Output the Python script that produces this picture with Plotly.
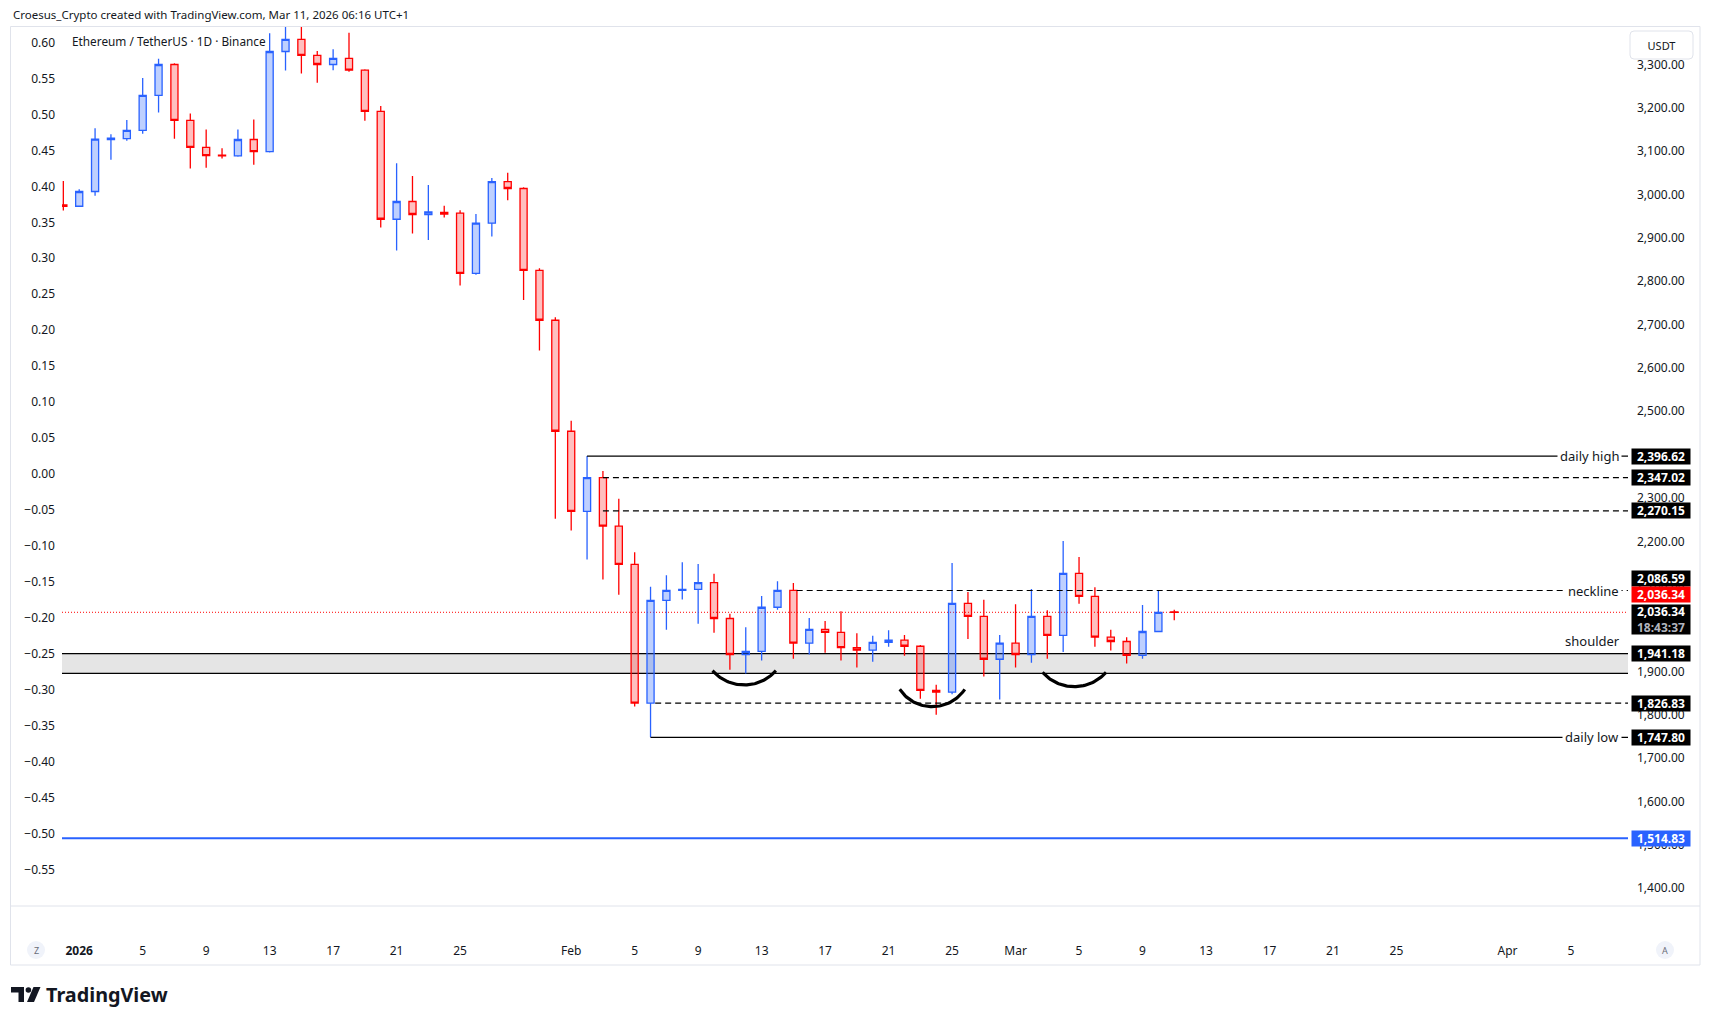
import numpy as np
import pandas as pd
import plotly.graph_objects as go

# ---------------- data ----------------
dates = pd.date_range("2025-12-31", "2026-03-11", freq="D")
opens = [2976, 2973, 3007, 3127, 3129, 3148, 3229, 3300, 3171, 3109, 3091, 3089, 3127, 3099, 3330, 3358,
         3321, 3300, 3314, 3287, 3192, 2943, 2984, 2954, 2959, 2957, 2818, 2934, 3030, 3014, 2825, 2710,
         2454, 2269, 2347, 2235, 2147, 1826.83, 2064, 2087, 2089, 2105, 2022, 1939, 1946, 2048, 2087,
         1965, 1997, 1990, 1955, 1949, 1967, 1972, 1958, 1856, 1852, 2057, 2027, 1928, 1965, 1939, 2027,
         1983, 2126, 2073, 1979, 1969, 1937, 1992, 2037]
highs = [3031, 3012, 3153, 3139, 3172, 3269, 3313, 3303, 3187, 3150, 3107, 3150, 3173, 3372, 3405, 3398,
         3331, 3335, 3373, 3289, 3204, 3072, 3043, 3022, 2974, 2964, 2955, 3038, 3050, 3017, 2830, 2717,
         2478, 2396.62, 2362, 2298, 2175, 2095, 2122, 2152, 2148, 2125, 2033, 2002, 2074, 2108, 2104,
         2023, 2016, 2039, 1988, 1982, 1995, 1984, 1961, 1869, 2150, 2083, 2065, 1984, 2055, 2090, 2041,
         2201, 2164, 2094, 1996, 1979, 2053, 2087, 2042]
lows = [2963, 2971, 2997, 3080, 3124, 3140, 3189, 3129, 3060, 3062, 3083, 3087, 3069, 3097, 3286, 3279,
        3258, 3287, 3283, 3170, 2924, 2871, 2910, 2895, 2947, 2790, 2815, 2903, 2987, 2757, 2640, 2252,
        2225, 2158, 2112, 2077, 1819, 1747.80, 1996, 2066, 2010, 1989, 1904, 1895, 1925, 2042, 1929,
        1939, 1943, 1925, 1909, 1922, 1957, 1936, 1837, 1800, 1847, 1975, 1888, 1835, 1909, 1920, 1929,
        1945, 2056, 1957, 1948, 1918, 1929, 1992, 2018]
closes = [2973, 3007, 3128, 3130, 3148, 3229, 3300, 3171, 3109, 3090, 3089, 3127, 3099, 3330, 3358, 3321,
          3300, 3314, 3287, 3192, 2943, 2984, 2954, 2960, 2955, 2818, 2934, 3030, 3014, 2825, 2710, 2454,
          2269, 2347.02, 2235, 2147, 1826.83, 2064, 2087, 2089, 2105, 2022, 1939, 1946, 2048, 2087, 1965,
          1997, 1990, 1955, 1949, 1967, 1972, 1958, 1856, 1852, 2057, 2027, 1928, 1965, 1939, 2027, 1983,
          2126, 2073, 1979, 1969, 1937, 1992, 2036.34, 2036.34]

left_ticks = [0.60, 0.55, 0.50, 0.45, 0.40, 0.35, 0.30, 0.25, 0.20, 0.15, 0.10, 0.05, 0.00,
              -0.05, -0.10, -0.15, -0.20, -0.25, -0.30, -0.35, -0.40, -0.45, -0.50, -0.55]
left_tick_labels = [f"{v:.2f}".replace("-", "\u2212") for v in left_ticks]
right_ticks = [1400, 1500, 1600, 1700, 1800, 1900, 2000, 2100, 2200, 2300, 2400, 2500, 2600, 2700,
               2800, 2900, 3000, 3100, 3200, 3300]
x_tick_dates = ["2026-01-01", "2026-01-05", "2026-01-09", "2026-01-13", "2026-01-17", "2026-01-21",
                "2026-01-25", "2026-02-01", "2026-02-05", "2026-02-09", "2026-02-13", "2026-02-17",
                "2026-02-21", "2026-02-25", "2026-03-01", "2026-03-05", "2026-03-09", "2026-03-13",
                "2026-03-17", "2026-03-21", "2026-03-25", "2026-04-01", "2026-04-05"]
x_tick_labels = ["<b>2026</b>", "5", "9", "13", "17", "21", "25", "Feb", "5", "9", "13", "17", "21", "25",
                 "Mar", "5", "9", "13", "17", "21", "25", "Apr", "5"]

# drawn levels
level_prices = [2396.62, 2347.02, 2270.15, 2086.59, 1826.83, 1747.80]
level_starts = ["2026-02-02", "2026-02-03", "2026-02-03", "2026-02-15 05:00", "2026-02-06 07:00", "2026-02-06"]
level_dashed = [False, True, True, True, True, False]
level_texts = ["daily high", "", "", "neckline", "", "daily low"]
shoulder_top = 1941.18
shoulder_bottom = 1895.5
last_price = 2036.34
blue_level = 1514.83
countdown = "18:43:37"
# rounded-bottom drawings: (start day, end day, rim price, bottom price), day 0 = 2026-01-01
arcs = [(39.9, 43.9, 1901.6, 1868.6), (51.7, 55.8, 1858.6, 1818.6), (60.7, 64.7, 1897.8, 1864.8)]

# ---------------- layout geometry ----------------
W, H = 1711, 1025
PL, PR, PT, PB = 62, 1628, 27, 906
BASE = pd.Timestamp("2026-01-01")
X_DAYS = (-1.084, 97.59)
Y_RANGE = (1358.8, 3386.5)
Y2_RANGE = (-0.6006, 0.6216)
FONT = "Noto Sans"
TXT = "#131722"


def px_x(px):
    return (px - PL) / (PR - PL)


def px_y(py):
    return (PB - py) / (PB - PT)


def day(d):
    return BASE + pd.to_timedelta(d, unit="D")


x_range = [day(X_DAYS[0]), day(X_DAYS[1])]

fig = go.Figure()
fig.add_trace(go.Candlestick(
    x=dates, open=opens, high=highs, low=lows, close=closes,
    increasing=dict(line=dict(color="#2962ff", width=1.3), fillcolor="rgba(41,98,255,0.3)"),
    decreasing=dict(line=dict(color="#ff0000", width=1.3), fillcolor="rgba(255,0,0,0.25)"),
    whiskerwidth=0, showlegend=False, hoverinfo="skip"))

# arcs
ppd = (PR - PL) / (X_DAYS[1] - X_DAYS[0])
ppu = (PB - PT) / (Y_RANGE[1] - Y_RANGE[0])
for s, e, rim, bot in arcs:
    half = (e - s) / 2 * ppd
    sag = (rim - bot) * ppu
    R = (half ** 2 + sag ** 2) / (2 * sag)
    u = np.linspace(-half, half, 60)
    v = R - np.sqrt(R ** 2 - u ** 2)
    xs = [day((s + e) / 2 + ui / ppd) for ui in u]
    ys = bot + v / ppu
    fig.add_trace(go.Scatter(x=xs, y=ys, mode="lines", line=dict(color="black", width=3.2),
                             showlegend=False, hoverinfo="skip"))

# invisible trace for left scale
fig.add_trace(go.Scatter(x=[dates[0]], y=[0], yaxis="y2", mode="markers",
                         marker=dict(opacity=0), showlegend=False, hoverinfo="skip"))

shapes = []
# shoulder band
shapes.append(dict(type="rect", xref="paper", yref="y", x0=0, x1=1, y0=shoulder_bottom, y1=shoulder_top,
                   fillcolor="rgba(0,0,0,0.10)", line=dict(width=0), layer="below"))
for yv in (shoulder_top, shoulder_bottom):
    shapes.append(dict(type="line", xref="paper", yref="y", x0=0, x1=1, y0=yv, y1=yv,
                       line=dict(color="black", width=1.3), layer="below"))
# last price dotted line
shapes.append(dict(type="line", xref="paper", yref="y", x0=0, x1=1, y0=last_price, y1=last_price,
                   line=dict(color="#ff0000", width=1, dash="1px,2px"), layer="below"))
# blue level
shapes.append(dict(type="line", xref="paper", yref="y", x0=0, x1=1, y0=blue_level, y1=blue_level,
                   line=dict(color="#2962ff", width=2), layer="below"))
# levels
for p, st, dsh in zip(level_prices, level_starts, level_dashed):
    shapes.append(dict(type="line", xref="x", yref="y", x0=st, x1=x_range[1], y0=p, y1=p,
                       line=dict(color="black", width=1.3 if not dsh else 1.2,
                                 dash="6px,4px" if dsh else "solid"), layer="above"))

# frame
FC = "#e0e3eb"
shapes.append(dict(type="rect", xref="paper", yref="paper", x0=px_x(10.5), x1=px_x(1700),
                   y0=px_y(965), y1=px_y(26.5), line=dict(color=FC, width=1)))
shapes.append(dict(type="line", xref="paper", yref="paper", x0=px_x(10.5), x1=px_x(1700),
                   y0=px_y(906), y1=px_y(906), line=dict(color=FC, width=1)))
# Z / A buttons
for cx in (36, 1665):
    shapes.append(dict(type="circle", xref="paper", yref="paper", x0=px_x(cx - 9), x1=px_x(cx + 9),
                       y0=px_y(959), y1=px_y(941), fillcolor="#f0f3fa", line=dict(width=0)))


# USDT button (rounded rectangle)
def rrect(x0, y0, x1, y1, r):
    X = px_x
    Y = px_y
    return (f"M {X(x0 + r)},{Y(y0)} L {X(x1 - r)},{Y(y0)} Q {X(x1)},{Y(y0)} {X(x1)},{Y(y0 + r)} "
            f"L {X(x1)},{Y(y1 - r)} Q {X(x1)},{Y(y1)} {X(x1 - r)},{Y(y1)} L {X(x0 + r)},{Y(y1)} "
            f"Q {X(x0)},{Y(y1)} {X(x0)},{Y(y1 - r)} L {X(x0)},{Y(y0 + r)} Q {X(x0)},{Y(y0)} {X(x0 + r)},{Y(y0)} Z")


shapes.append(dict(type="path", xref="paper", yref="paper", path=rrect(1630, 31, 1693, 59, 4),
                   fillcolor="white", line=dict(color=FC, width=1), layer="above"))

# TradingView logo
shapes.append(dict(type="rect", xref="paper", yref="paper", x0=px_x(11), x1=px_x(24),
                   y0=px_y(992.5), y1=px_y(987), fillcolor="#131722", line=dict(width=0)))
shapes.append(dict(type="rect", xref="paper", yref="paper", x0=px_x(18.5), x1=px_x(24),
                   y0=px_y(1002), y1=px_y(987), fillcolor="#131722", line=dict(width=0)))
shapes.append(dict(type="circle", xref="paper", yref="paper", x0=px_x(25.6), x1=px_x(31.2),
                   y0=px_y(992.8), y1=px_y(987.2), fillcolor="#131722", line=dict(width=0)))
shapes.append(dict(type="path", xref="paper", yref="paper",
                   path=f"M {px_x(33.5)},{px_y(987)} L {px_x(40.5)},{px_y(987)} L {px_x(34)},{px_y(1002)} "
                        f"L {px_x(27)},{px_y(1002)} Z",
                   fillcolor="#131722", line=dict(width=0)))

ann = []


def text_ann(x, y, text, size=12, xanchor="left", color=TXT, **kw):
    ann.append(dict(x=px_x(x), y=px_y(y), xref="paper", yref="paper", text=text, showarrow=False,
                    xanchor=xanchor, yanchor="middle", font=dict(family=FONT, size=size, color=color), **kw))


text_ann(11, 14, "Croesus_Crypto created with TradingView.com, Mar 11, 2026 06:16 UTC+1", size=11.5)
text_ann(70, 41.5, "Ethereum / TetherUS \u00b7 1D \u00b7 Binance", size=11.8)
# white cover inside the USDT button (sits above the axis labels)
ann.append(dict(x=px_x(1661.5), y=px_y(45), xref="paper", yref="paper", text="USDT", showarrow=False,
                xanchor="center", yanchor="middle", bgcolor="white", width=57, height=22, borderpad=0,
                font=dict(family=FONT, size=11, color=TXT)))
text_ann(36, 950.5, "Z", size=9, xanchor="center", color="#6a6d78")
text_ann(1665, 950.5, "A", size=9, xanchor="center", color="#6a6d78")
text_ann(43.5, 994.5, "<b>TradingView</b>", size=19.8, color="#131722")

# level texts on the lines
for p, t in zip(level_prices, level_texts):
    if t:
        ann.append(dict(x=px_x(1622), y=p, xref="paper", yref="y", text=t, showarrow=False, xanchor="right",
                        yanchor="middle", bgcolor="white", borderpad=2,
                        font=dict(family=FONT, size=13, color=TXT)))
ann.append(dict(x=px_x(1622), y=shoulder_top, xref="paper", yref="y", text="shoulder", showarrow=False,
                xanchor="right", yanchor="middle", yshift=13, font=dict(family=FONT, size=13, color=TXT)))


# price boxes on the scale
def box(price, bg, yshift=0, text=None, height=13):
    ann.append(dict(x=px_x(1631), y=price, xref="paper", yref="y", text=text or f"<b>{price:,.2f}</b>",
                    showarrow=False, xanchor="left", yanchor="middle", yshift=yshift, bgcolor=bg,
                    borderpad=1, width=56, height=height, align="center",
                    font=dict(family=FONT, size=12, color="white")))


for p in level_prices:
    box(p, "black", yshift=12.3 if p == 2086.59 else 0)
box(shoulder_top, "black")
box(last_price, "#ff0000", yshift=17.3)
box(last_price, "black", yshift=-7.2, height=27,
    text=f"<b>{last_price:,.2f}</b><br><span style='color:#b2b5be'><b>{countdown}</b></span>")
box(blue_level, "#2962ff")

fig.update_layout(
    width=W, height=H, autosize=False,
    margin=dict(l=PL, r=W - PR, t=PT, b=H - PB, pad=0),
    paper_bgcolor="white", plot_bgcolor="white",
    font=dict(family=FONT, size=12, color=TXT),
    showlegend=False, boxgap=0.36,
    shapes=shapes, annotations=ann,
    xaxis=dict(type="date", range=x_range, rangeslider=dict(visible=False), showgrid=False, zeroline=False,
               showline=False, ticks="", tickvals=x_tick_dates, ticktext=x_tick_labels,
               ticklabelstandoff=36, tickfont=dict(family=FONT, size=12, color=TXT)),
    yaxis=dict(side="right", range=list(Y_RANGE), showgrid=False, zeroline=False, showline=False, ticks="",
               tickvals=right_ticks, tickformat=",.2f", ticklabelstandoff=8,
               tickfont=dict(family=FONT, size=12, color=TXT)),
    yaxis2=dict(overlaying="y", side="left", range=list(Y2_RANGE), showgrid=False, zeroline=False,
                showline=False, ticks="", tickvals=left_ticks, ticktext=left_tick_labels,
                ticklabelstandoff=6, tickfont=dict(family=FONT, size=12, color=TXT)),
)

fig.write_html("out.html")
